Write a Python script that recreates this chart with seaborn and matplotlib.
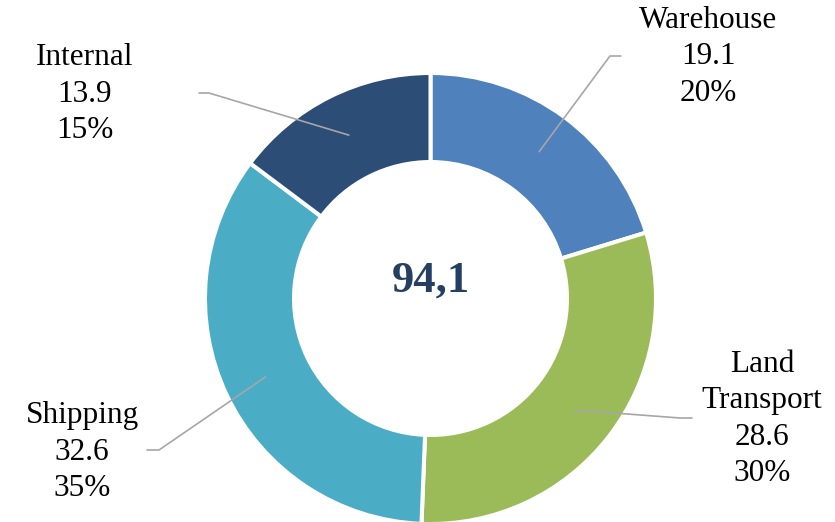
import numpy as np
import matplotlib.pyplot as plt
import seaborn as sns

# data
categories = ["Warehouse", "Land\nTransport", "Shipping", "Internal"]
values = [19.1, 28.6, 32.6, 13.9]
total_label = "94,1"
colors = ["#4F81BD", "#9BBB59", "#4BACC6", "#2C4D75"]

# label layout (pixel coords, y from top)
label_pos = [(708, 57), (762, 419), (82, 452), (85, 94)]
leader_elbow = [(610, 56), (680, 418), (159, 450), (209, 93)]
leader_end = [(621, 56), (692, 418), (147, 450), (199, 93)]

sns.set_theme(style="white")
plt.rcParams["font.family"] = ["Liberation Serif", "DejaVu Serif"]

W, H = 835, 522
fig = plt.figure(figsize=(8.35, 5.22), dpi=100)
ax = fig.add_axes([0, 0, 1, 1])
cx, cy, R = 430.5, H - 298.5, 225.5

wedges, _ = ax.pie(values, colors=sns.color_palette(colors), startangle=90,
                   counterclock=False, radius=R, center=(cx, cy),
                   wedgeprops=dict(width=89, edgecolor="white", linewidth=2.9))
ax.set_xlim(0, W)
ax.set_ylim(0, H)
ax.set_aspect("equal")
ax.axis("off")

total = sum(values)
for w, name, v, pos, elb, end in zip(wedges, categories, values, label_pos, leader_elbow, leader_end):
    ang = np.deg2rad((w.theta1 + w.theta2) / 2)
    x0 = cx + 0.81 * R * np.cos(ang)
    y0 = cy + 0.81 * R * np.sin(ang)
    ax.plot([x0, elb[0], end[0]], [y0, H - elb[1], H - end[1]], color="#A6A6A6", lw=1.2)
    ax.text(pos[0], H - pos[1], f"{name}\n{v:.1f}\n{v / total * 100:.0f}%",
            ha="center", va="center", fontsize=22.5, linespacing=1.32, color="black")

ax.text(cx, H - 281, total_label, ha="center", va="center", fontsize=32,
        fontweight="bold", color="#243F60")

fig.savefig("out.png", dpi=100)
